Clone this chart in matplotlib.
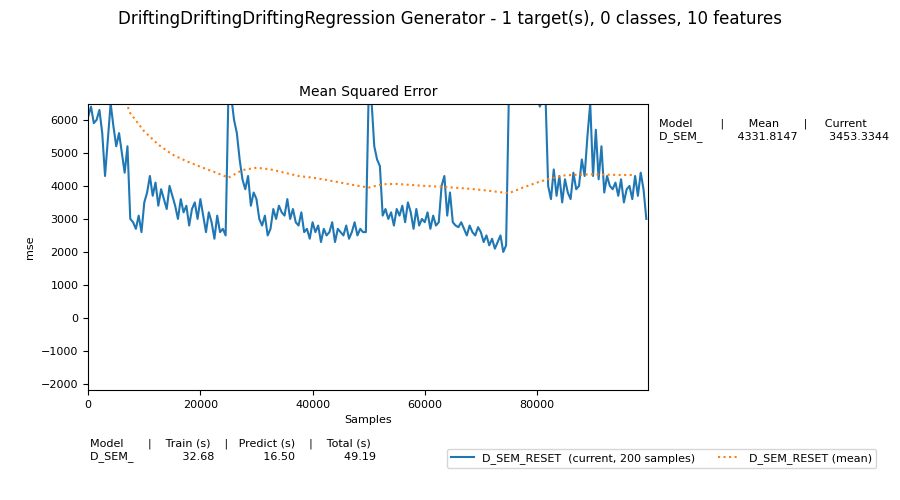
import numpy as np
import matplotlib.pyplot as plt

step = 500
current_mse = [
    # 0 - 25000
    6100, 6400, 5900, 6000, 6300, 5600, 4300, 5400, 6500, 5800,
    5200, 5600, 5000, 4400, 5200, 3000, 2900, 2700, 3100, 2600,
    3500, 3800, 4300, 3700, 4100, 3400, 3900, 3600, 3300, 4000,
    3700, 3400, 3000, 3600, 3200, 3400, 2800, 3300, 3500, 3000,
    3600, 3100, 2600, 3200, 2900, 2400, 3100, 2600, 2700, 2500,
    # 25000 - 50000
    6800, 6700, 6000, 5600, 4800, 4200, 3900, 4300, 3400, 3800,
    3600, 3000, 2800, 3100, 2500, 2700, 3300, 3000, 3400, 3200,
    3100, 3600, 3000, 3300, 2900, 2800, 3200, 2600, 2700, 2400,
    2900, 2600, 2800, 2300, 2700, 2500, 2600, 2900, 2300, 2700,
    2600, 2500, 2800, 2400, 2600, 2900, 2500, 2700, 2600, 2600,
    # 50000 - 75000
    6800, 6600, 5200, 4800, 4600, 3100, 3300, 3000, 3200, 2800,
    3300, 3100, 3400, 2900, 3500, 3200, 2700, 3300, 2800, 3000,
    2900, 3200, 2700, 3100, 2800, 2900, 4000, 4300, 3100, 3800,
    2900, 2800, 2750, 2900, 2700, 2500, 2800, 2600, 2500, 2750,
    2600, 2300, 2500, 2200, 2400, 2100, 2300, 2500, 2000, 2200,
    # 75000 - 100000
    6800, 7200, 7000, 7100, 6900, 7300, 7000, 7400, 7000, 7100,
    6900, 6400, 6600, 6900, 4000, 3600, 4500, 3700, 4300, 3500,
    4200, 3800, 3600, 4400, 3900, 4000, 4800, 4300, 5500, 6500,
    4300, 5700, 4200, 5200, 3800, 4300, 4000, 3900, 4100, 3700,
    4200, 3500, 3900, 4000, 3600, 4300, 3700, 4400, 3900, 3000,
]
mean_step = 2500
mean_mse = [
    9500, 8200, 7300, 6200, 5650, 5250, 4950, 4750, 4580, 4420,
    4250, 4480, 4550, 4500, 4400, 4300, 4250, 4180, 4100, 4020,
    3950, 4050, 4060, 4030, 4000, 3980, 3950, 3920, 3880, 3830,
    3780, 3950, 4100, 4230, 4320, 4340, 4350, 4340, 4330, 4330,
]

x_cur = np.arange(len(current_mse)) * step
x_mean = np.arange(len(mean_mse)) * mean_step

fig = plt.figure(figsize=(9, 5), dpi=100)
fig.suptitle("DriftingDriftingDriftingRegression Generator - 1 target(s), 0 classes, 10 features")
ax = fig.add_axes([0.098, 0.22, 0.622, 0.572])
ax.plot(x_cur, current_mse, color="#1f77b4", label="D_SEM_RESET  (current, 200 samples)")
ax.plot(x_mean, mean_mse, color="#ff7f0e", linestyle=":", label="D_SEM_RESET (mean)")
ax.set_xlim(0, 99800)
ax.set_ylim(-2180, 6480)
ax.set_title("Mean Squared Error", fontsize=10)
ax.set_xlabel("Samples", fontsize=8)
ax.set_ylabel("mse", fontsize=8)
ax.tick_params(labelsize=8)

fig.text(0.732, 0.74, "Model        |       Mean       |     Current\nD_SEM_          4331.8147         3453.3344",
         fontsize=8, va="center")
fig.text(0.1, 0.1, "Model       |    Train (s)    |   Predict (s)    |    Total (s)\nD_SEM_              32.68              16.50              49.19",
         fontsize=8, va="center")
fig.legend(loc="lower right", bbox_to_anchor=(0.98, 0.052), ncol=2, fontsize=8)

fig.savefig("out.png")
